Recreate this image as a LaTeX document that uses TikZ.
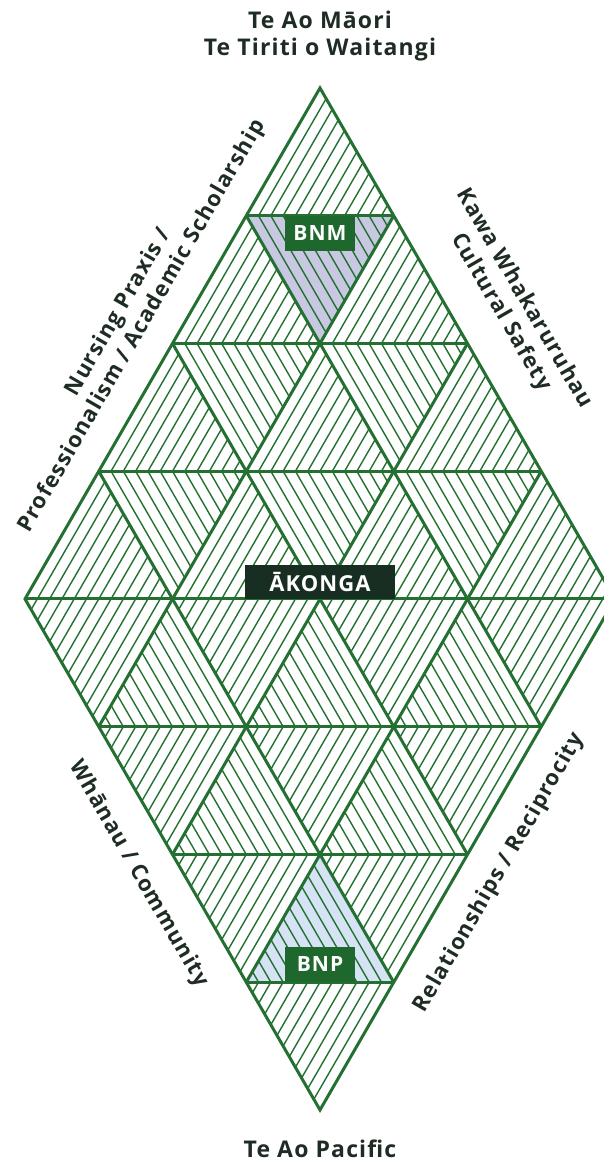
\documentclass[tikz,border=0pt]{standalone}
\usepackage{fontspec}
\setmainfont{Open Sans}
\newfontfamily\trackedsans[LetterSpace=5]{Open Sans}
\usepackage{xcolor}
\usetikzlibrary{calc}
\definecolor{leafgreen}{RGB}{36,112,50}
\definecolor{tagreen}{RGB}{30,104,46}
\definecolor{nightgreen}{RGB}{24,46,34}
\definecolor{inkgreen}{RGB}{30,44,36}
\definecolor{lilac}{RGB}{200,200,227}
\definecolor{skyfill}{RGB}{214,227,244}
\tikzset{
  lattice/.style={draw=leafgreen, line width=3pt},
  hatch/.style={draw=leafgreen, line width=1.4pt},
  tag/.style={fill=tagreen, text=white, inner sep=0pt,
    minimum width=70pt, minimum height=35pt,
    font=\trackedsans\bfseries\fontsize{21}{21}\selectfont},
  core/.style={fill=nightgreen, text=white, inner sep=0pt,
    minimum width=150pt, minimum height=34pt,
    font=\trackedsans\bfseries\fontsize{22}{22}\selectfont},
  heading/.style={text=inkgreen, align=center,
    font=\trackedsans\bfseries\fontsize{23}{27}\selectfont},
  edgelabel/.style={text=inkgreen, align=center, inner sep=0pt,
    font=\trackedsans\bfseries\fontsize{22}{27}\selectfont}
}
% lines parallel to #1--#2, stepping towards #3
\newcommand{\hatchtri}[3]{%
  \foreach \k in {1,...,11}{
    \draw[hatch] ($(#1)!\k/12!(#3)$) -- ($(#2)!\k/12!(#3)$);
  }%
}

\begin{document}
\begin{tikzpicture}[x=1pt, y=-1pt]
  \useasboundingbox (0,0) rectangle (604,1162);
  \clip (0,0) rectangle (604,1162);

  % Lattice points: u steps down-left, v steps down-right from the apex.
  \begin{scope}[shift={(320,88)}, x={(-73.75pt,-127.74pt)}, y={(73.75pt,-127.74pt)}]
    \foreach \u in {0,...,4}{
      \foreach \v in {0,...,4}{
        \coordinate (p\u\v) at (\u,\v);
      }
    }
  \end{scope}

  % Tinted triangles.
  \fill[lilac] (p10) -- (p01) -- (p11) -- cycle;
  \fill[skyfill] (p33) -- (p43) -- (p34) -- cycle;

  % Hatching, mirrored between the two halves.
  \foreach \u in {0,...,3}{
    \foreach \v in {0,...,3}{
      \pgfmathtruncatemacro{\uu}{\u+1}
      \pgfmathtruncatemacro{\vv}{\v+1}
      \pgfmathtruncatemacro{\lev}{\u+\v}
      \ifnum\lev<4
        \hatchtri{p\u\v}{p\uu\v}{p\u\vv}
      \else
        \hatchtri{p\u\v}{p\u\vv}{p\uu\v}
      \fi
      \ifnum\lev<3
        \hatchtri{p\uu\v}{p\uu\vv}{p\u\vv}
      \else
        \hatchtri{p\u\vv}{p\uu\vv}{p\uu\v}
      \fi
    }
  }

  % Grid lines.
  \foreach \k in {1,2,3}{
    \draw[lattice] (p\k0) -- (p\k4);
    \draw[lattice] (p0\k) -- (p4\k);
    \draw[lattice] (p4\k) -- (p\k4);
  }
  \foreach \k in {1,...,4}{
    \draw[lattice] (p\k0) -- (p0\k);
  }
  \draw[lattice, line join=miter] (p00) -- (p40) -- (p44) -- (p04) -- cycle;

  \node[tag, anchor=north] (bnm) at ($(p10)!0.5!(p01)$) {BNM};
  \node[tag, anchor=south] (bnp) at ($(p43)!0.5!(p34)$) {BNP};
  \node[core, anchor=south] (akonga) at ($(p40)!0.5!(p04)$) {ĀKONGA};

  \node[heading] (maori) at (320,36) {Te Ao Māori\\Te Tiriti o Waitangi};
  \node[heading] (pacific) at (320,1149) {Te Ao Pacific};
  \node[edgelabel, rotate=60] (praxis) at ($(p20)+(-42,-24)$)
    {Nursing Praxis /\\Professionalism / Academic Scholarship};
  \node[edgelabel, rotate=-60] (kawa) at ($(p02)+(45,-38)$)
    {Kawa Whakaruruhau\\Cultural Safety};
  \node[edgelabel, rotate=-60] (whanau) at ($(p42)+(-34,19.5)$)
    {Whānau / Community};
  \node[edgelabel, rotate=60] (relations) at ($(p24)+(32,18.5)$)
    {Relationships / Reciprocity};
\end{tikzpicture}
\end{document}
